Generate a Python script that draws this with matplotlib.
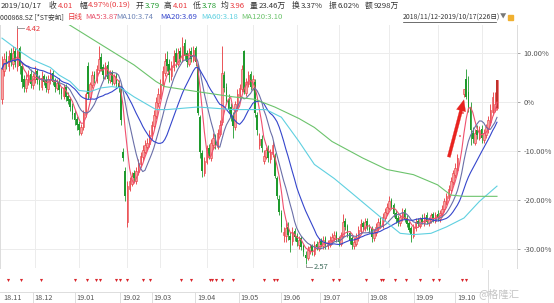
import numpy as np
import pandas as pd
import matplotlib
matplotlib.use("Agg")
from matplotlib import pyplot as plt
from matplotlib.lines import Line2D
from matplotlib.patches import Rectangle

plt.rcParams['font.family'] = ['Noto Sans CJK SC', 'DejaVu Sans']

# reference price for the percent axis
base_price = 3.84

# daily candles 2018/11/12 - 2019/10/17 (226 days)
opens = [
    3.86, 4.08, 4.20, 4.12, 4.22, 4.14, 4.24, 4.12, 4.26, 4.12,
    4.02, 3.95, 4.00, 4.06, 3.97, 4.02, 4.08, 4.02, 3.96, 4.04,
    4.01, 3.94, 4.01, 4.07, 4.01, 3.95, 4.00, 3.94, 3.89, 3.96,
    3.89, 3.86, 3.81, 3.75, 3.71, 3.67, 3.60, 3.64, 3.74, 4.12,
    3.88, 3.97, 4.06, 4.01, 4.09, 4.19, 4.11, 4.04, 4.13, 4.01,
    4.07, 3.99, 4.05, 3.99, 3.95, 3.45, 3.30, 2.90, 3.16, 3.20,
    3.28, 3.22, 3.29, 3.35, 3.41, 3.45, 3.49, 3.51, 3.57, 3.65,
    3.73, 3.83, 3.89, 3.97, 4.07, 4.18, 4.14, 4.04, 4.11, 4.22,
    4.14, 4.24, 4.17, 4.30, 4.22, 4.14, 4.24, 4.17, 4.26, 4.12,
    3.72, 3.44, 3.28, 3.37, 3.48, 3.40, 3.50, 3.57, 3.49, 3.59,
    3.68, 4.05, 3.96, 3.86, 3.80, 3.73, 3.64, 3.80, 3.89, 3.94,
    4.24, 3.91, 3.98, 4.06, 3.95, 4.00, 3.74, 3.50, 3.55, 3.38,
    3.41, 3.47, 3.39, 3.43, 3.42, 3.24, 3.08, 2.97, 2.80, 2.79,
    2.86, 2.79, 2.75, 2.83, 2.79, 2.72, 2.77, 2.71, 2.64, 2.62,
    2.67, 2.71, 2.65, 2.73, 2.69, 2.75, 2.71, 2.77, 2.71, 2.72,
    2.75, 2.77, 2.81, 2.77, 2.73, 2.79, 2.91, 2.87, 2.81, 2.77,
    2.71, 2.73, 2.77, 2.83, 2.89, 2.85, 2.91, 2.85, 2.85, 2.77,
    2.81, 2.85, 2.91, 2.87, 2.93, 2.97, 3.01, 3.07, 3.03, 2.97,
    2.93, 2.89, 2.93, 2.99, 2.93, 2.89, 2.85, 2.79, 2.85, 2.91,
    2.87, 2.93, 2.89, 2.95, 2.89, 2.91, 2.96, 2.91, 2.96, 2.92,
    2.96, 3.00, 3.05, 3.09, 3.15, 3.21, 3.27, 3.31, 3.57, 3.75,
    3.90, 4.02, 3.92, 3.80, 3.60, 3.52, 3.62, 3.56, 3.63, 3.54,
    3.58, 3.63, 3.68, 3.76, 3.78, 3.79,
]
highs = [
    4.20, 4.22, 4.24, 4.25, 4.26, 4.28, 4.27, 4.42, 4.28, 4.14,
    4.05, 4.06, 4.09, 4.10, 4.07, 4.12, 4.10, 4.05, 4.08, 4.06,
    4.04, 4.05, 4.10, 4.09, 4.03, 4.02, 4.03, 3.96, 3.98, 3.98,
    3.92, 3.88, 3.83, 3.78, 3.73, 3.69, 3.67, 3.78, 3.92, 4.15,
    4.00, 4.08, 4.08, 4.13, 4.28, 4.22, 4.14, 4.15, 4.16, 4.09,
    4.09, 4.06, 4.07, 4.01, 3.97, 3.48, 3.33, 3.22, 3.25, 3.29,
    3.31, 3.33, 3.39, 3.45, 3.50, 3.54, 3.56, 3.62, 3.69, 3.78,
    3.88, 3.95, 4.02, 4.12, 4.22, 4.24, 4.18, 4.16, 4.25, 4.26,
    4.26, 4.27, 4.35, 4.33, 4.25, 4.26, 4.27, 4.28, 4.28, 4.14,
    3.74, 3.46, 3.41, 3.50, 3.51, 3.55, 3.60, 3.59, 3.63, 3.70,
    4.28, 4.08, 3.99, 3.90, 3.83, 3.76, 3.85, 3.94, 3.98, 4.13,
    4.25, 4.03, 4.08, 4.08, 4.05, 4.02, 3.76, 3.60, 3.58, 3.46,
    3.49, 3.50, 3.47, 3.53, 3.44, 3.26, 3.11, 2.99, 2.86, 2.90,
    2.90, 2.82, 2.86, 2.85, 2.81, 2.79, 2.79, 2.73, 2.67, 2.71,
    2.73, 2.73, 2.75, 2.75, 2.77, 2.77, 2.79, 2.79, 2.76, 2.79,
    2.81, 2.83, 2.83, 2.79, 2.82, 2.96, 2.93, 2.88, 2.83, 2.79,
    2.77, 2.81, 2.87, 2.92, 2.91, 2.93, 2.93, 2.88, 2.87, 2.84,
    2.89, 2.93, 2.94, 2.97, 3.01, 3.05, 3.10, 3.09, 3.05, 2.99,
    2.95, 2.96, 3.01, 3.01, 2.95, 2.91, 2.87, 2.88, 2.93, 2.93,
    2.94, 2.96, 2.97, 2.98, 2.94, 2.97, 2.98, 2.98, 2.99, 2.99,
    3.03, 3.09, 3.13, 3.19, 3.25, 3.31, 3.36, 3.43, 3.57, 3.75,
    3.94, 4.10, 4.04, 3.84, 3.64, 3.63, 3.66, 3.65, 3.66, 3.63,
    3.67, 3.73, 3.82, 3.92, 3.92, 4.01,
]
lows = [
    3.82, 4.04, 4.10, 4.08, 4.12, 4.10, 4.11, 4.08, 4.06, 3.95,
    3.92, 3.92, 3.97, 3.95, 3.94, 3.99, 3.98, 3.93, 3.93, 3.97,
    3.92, 3.91, 3.98, 3.97, 3.92, 3.93, 3.90, 3.86, 3.86, 3.85,
    3.82, 3.77, 3.71, 3.66, 3.62, 3.58, 3.58, 3.62, 3.72, 3.86,
    3.86, 3.95, 3.99, 3.99, 4.07, 4.08, 4.02, 4.02, 3.99, 3.99,
    3.97, 3.97, 3.96, 3.92, 3.66, 3.38, 3.06, 2.86, 3.14, 3.18,
    3.21, 3.20, 3.27, 3.33, 3.38, 3.43, 3.46, 3.49, 3.55, 3.63,
    3.71, 3.80, 3.86, 3.95, 4.04, 4.08, 4.00, 4.01, 4.08, 4.11,
    4.12, 4.15, 4.15, 4.17, 4.11, 4.12, 4.15, 4.15, 4.12, 3.74,
    3.40, 3.25, 3.26, 3.35, 3.39, 3.38, 3.47, 3.47, 3.47, 3.57,
    3.66, 3.92, 3.82, 3.75, 3.69, 3.56, 3.62, 3.77, 3.86, 3.92,
    3.90, 3.89, 3.96, 3.93, 3.93, 3.72, 3.58, 3.47, 3.45, 3.35,
    3.39, 3.37, 3.36, 3.41, 3.24, 3.08, 2.95, 2.82, 2.74, 2.74,
    2.76, 2.66, 2.72, 2.75, 2.71, 2.69, 2.68, 2.63, 2.57, 2.60,
    2.65, 2.64, 2.63, 2.68, 2.67, 2.70, 2.69, 2.69, 2.69, 2.70,
    2.73, 2.75, 2.74, 2.71, 2.71, 2.77, 2.84, 2.78, 2.73, 2.69,
    2.69, 2.71, 2.75, 2.81, 2.83, 2.83, 2.84, 2.81, 2.74, 2.75,
    2.79, 2.83, 2.86, 2.85, 2.91, 2.95, 2.99, 3.00, 2.94, 2.89,
    2.87, 2.87, 2.91, 2.90, 2.86, 2.82, 2.74, 2.77, 2.83, 2.86,
    2.85, 2.88, 2.87, 2.88, 2.87, 2.89, 2.90, 2.89, 2.91, 2.90,
    2.94, 2.98, 3.03, 3.07, 3.13, 3.19, 3.24, 3.29, 3.57, 3.75,
    3.88, 3.86, 3.76, 3.50, 3.52, 3.50, 3.55, 3.54, 3.52, 3.52,
    3.56, 3.60, 3.66, 3.74, 3.76, 3.78,
]
closes = [
    4.10, 4.18, 4.14, 4.20, 4.16, 4.22, 4.15, 4.24, 4.12, 4.00,
    3.96, 4.02, 4.05, 3.98, 4.04, 4.07, 4.01, 3.97, 4.03, 4.00,
    3.95, 4.02, 4.06, 4.00, 3.96, 3.99, 3.93, 3.90, 3.95, 3.88,
    3.85, 3.80, 3.74, 3.70, 3.66, 3.62, 3.64, 3.75, 3.90, 3.90,
    3.98, 4.05, 4.02, 4.10, 4.18, 4.10, 4.05, 4.12, 4.02, 4.06,
    4.00, 4.04, 3.98, 3.95, 3.70, 3.40, 3.10, 3.18, 3.22, 3.26,
    3.24, 3.30, 3.36, 3.42, 3.46, 3.50, 3.52, 3.58, 3.66, 3.74,
    3.84, 3.90, 3.98, 4.08, 4.16, 4.12, 4.05, 4.12, 4.20, 4.15,
    4.22, 4.18, 4.28, 4.20, 4.15, 4.22, 4.18, 4.25, 4.15, 3.75,
    3.45, 3.30, 3.38, 3.46, 3.42, 3.52, 3.56, 3.50, 3.60, 3.66,
    4.07, 3.95, 3.85, 3.78, 3.72, 3.65, 3.82, 3.90, 3.95, 4.10,
    3.92, 4.00, 4.05, 3.96, 4.02, 3.75, 3.62, 3.55, 3.48, 3.42,
    3.46, 3.40, 3.44, 3.50, 3.26, 3.10, 2.98, 2.86, 2.82, 2.85,
    2.80, 2.76, 2.82, 2.78, 2.74, 2.76, 2.70, 2.66, 2.62, 2.68,
    2.70, 2.66, 2.72, 2.70, 2.74, 2.72, 2.76, 2.72, 2.73, 2.76,
    2.78, 2.80, 2.76, 2.74, 2.80, 2.90, 2.86, 2.80, 2.76, 2.72,
    2.74, 2.78, 2.84, 2.88, 2.86, 2.90, 2.86, 2.84, 2.78, 2.82,
    2.86, 2.90, 2.88, 2.94, 2.98, 3.02, 3.06, 3.02, 2.96, 2.92,
    2.90, 2.94, 2.98, 2.92, 2.88, 2.84, 2.80, 2.86, 2.90, 2.88,
    2.92, 2.90, 2.94, 2.90, 2.92, 2.95, 2.92, 2.95, 2.93, 2.97,
    3.00, 3.06, 3.10, 3.16, 3.22, 3.28, 3.32, 3.40, 3.57, 3.75,
    3.94, 3.88, 3.80, 3.62, 3.55, 3.60, 3.58, 3.62, 3.56, 3.60,
    3.64, 3.70, 3.78, 3.88, 3.82, 4.01,
]

# long moving averages (day index, price)
ma60_days = [0, 7, 14, 22, 26, 31, 35, 40, 45, 50, 54, 60, 66, 70, 75, 89,
             105, 120, 127, 135, 142, 151, 158, 167, 176, 181, 187, 195,
             202, 210, 217, 225]
ma60_vals = [4.34, 4.25, 4.17, 4.11, 4.05, 4.00, 3.93, 3.92, 3.95, 3.96,
             3.95, 3.88, 3.82, 3.78, 3.78, 3.80, 3.78, 3.78, 3.72, 3.53,
             3.35, 3.24, 3.14, 3.01, 2.88, 2.81, 2.80, 2.81, 2.86, 2.93,
             3.06, 3.18]
ma120_days = [0, 15, 31, 45, 60, 70, 74, 89, 105, 115, 124, 135, 142, 150,
              164, 175, 187, 198, 204, 210, 217, 225]
ma120_vals = [4.80, 4.62, 4.44, 4.29, 4.13, 4.00, 3.96, 3.92, 3.88, 3.86,
              3.80, 3.71, 3.64, 3.53, 3.40, 3.31, 3.27, 3.19, 3.11, 3.10,
              3.10, 3.10]

month_starts = [15, 35, 57, 72, 93, 114, 134, 153, 176, 198, 218]
month_labels = ['18.11', '18.12', '19.01', '19.02', '19.03', '19.04',
                '19.05', '19.06', '19.07', '19.08', '19.09', '19.10']
event_days = [3, 9, 19, 35, 41, 45, 47, 55, 57, 60, 68, 71, 86, 91, 100,
              101, 103, 106, 111, 126, 131, 132, 149, 159, 162, 175, 182,
              183, 189, 194, 201, 207, 210, 221, 223]
pct_ticks = [10, 0, -10, -20, -30]
pct_labels = ['10.00%', '0%', '-10.00%', '-20.00%', '-30.00%']

RED = '#e8383d'
GREEN = '#1f9a2d'
W, H = 554, 303


def pct(v):
    return (np.asarray(v, dtype=float) / base_price - 1) * 100


fig = plt.figure(figsize=(W / 100, H / 100), dpi=100)
ax = fig.add_axes([0, 1 - 268 / H, 517 / W, 243 / H])
xlim = (-0.9, 234.1)

x = np.arange(len(closes))
o, h, l, c = pct(opens), pct(highs), pct(lows), pct(closes)
up = c >= o
dn = ~up

# grid
for m in month_starts:
    ax.axvline(m, color='#ececec', lw=0.7, zorder=0)
for t in pct_ticks:
    ax.axhline(t, color='#ececec', lw=0.7, zorder=0)

# candles
ax.vlines(x[up], l[up], h[up], color=RED, lw=0.6, zorder=2)
ax.vlines(x[dn], l[dn], h[dn], color=GREEN, lw=0.6, zorder=2)
ax.bar(x[up], np.maximum(c - o, 0.2)[up], bottom=o[up], width=0.72,
       color='#f7a3a3', edgecolor=RED, lw=0.4, zorder=3)
ax.bar(x[dn], np.maximum(o - c, 0.2)[dn], bottom=c[dn], width=0.72,
       color=GREEN, lw=0, zorder=3)
ax.bar(x[-1:], (c - o)[-1:], bottom=o[-1:], width=0.8, color='#c0302a',
       lw=0, zorder=4)

# moving averages
s = pd.Series(closes)
ax.plot(x, pct(s.rolling(5, min_periods=1).mean()), color='#f0506e', lw=0.8, zorder=5)
ax.plot(x, pct(s.rolling(10, min_periods=1).mean()), color='#6a6fa8', lw=0.8, zorder=5)
ax.plot(x, pct(s.rolling(20, min_periods=1).mean()), color='#3546cc', lw=0.8, zorder=5)
ax.plot(ma60_days, pct(ma60_vals), color='#5fd0e0', lw=0.8, zorder=5)
ax.plot(ma120_days, pct(ma120_vals), color='#6cc36c', lw=0.8, zorder=5)

# high / low labels
ih = int(np.argmax(highs))
il = int(np.argmin(lows))
ax.plot([ih, ih, ih + 3], [h[ih] + 0.4, h[ih], h[ih]], color='#888888', lw=0.6)
ax.text(ih + 3.8, h[ih] - 0.3, '%.2f' % highs[ih], color=RED, fontsize=5.5,
        va='center', ha='left')
ax.plot([il, il, il + 3], [l[il] - 0.2, l[il] - 0.6, l[il] - 0.6], color='#888888', lw=0.6)
ax.text(il + 3.8, l[il] - 0.6, '%.2f' % lows[il], color='#3d6b5a', fontsize=5.5,
        va='center', ha='left')

# red arrow
ax.annotate('', xy=(210.3, 1.0), xytext=(202.8, -11.8),
            arrowprops=dict(arrowstyle='simple,head_width=0.75,head_length=0.9,tail_width=0.25',
                            fc='#e8231f', ec='#e8231f', lw=0.2, mutation_scale=9),
            zorder=6)

ax.set_xlim(*xlim)
ax.set_ylim(-33.9, 15.7)
ax.yaxis.tick_right()
ax.set_yticks(pct_ticks)
ax.set_yticklabels(pct_labels)
ax.tick_params(axis='y', length=2.5, width=0.6, color='#999999', labelsize=5.4,
               labelcolor='#555555', pad=2)
ax.set_xticks([])
for side in ['top', 'bottom']:
    ax.spines[side].set_visible(False)
for side in ['left', 'right']:
    ax.spines[side].set_color('#dcdcdc')
    ax.spines[side].set_linewidth(0.7)

# bottom strip with event markers and months
sx = fig.add_axes([0, 0, 489 / W, 33 / H])
sx.set_xlim(*xlim)
sx.set_ylim(33, 0)
sx.axis('off')
sx.scatter(event_days, [10] * len(event_days), marker='v', s=5, color='#d9262c', lw=0)
sx.axhline(22, color='#dddddd', lw=0.7)
sx.axvline(xlim[1] - 0.3, color='#dddddd', lw=0.7)
for m, lab in zip([0] + month_starts, month_labels):
    if m > 0:
        sx.plot([m, m], [22, 33], color='#dddddd', lw=0.7)
    sx.text(m + 0.8, 27.5, lab, fontsize=5.2, color='#555555', va='center', ha='left')

fig.text(519 / W, 1 - 294 / H, '@格隆汇', fontsize=7.5, color='#c4c4c4',
         ha='right', va='center')


# header
def htext(px, py, s, color='#333333', size=5.6):
    fig.text(px / W, 1 - py / H, s, fontsize=size, color=color, va='center', ha='left')


htext(1, 6, '2019/10/17')
htext(49, 6, '收')
htext(58, 6, '4.01', RED)
htext(79, 6, '幅')
htext(88, 6, '4.97%(0.19)', RED)
htext(136, 6, '开')
htext(145, 6, '3.79', GREEN)
htext(164, 6, '高')
htext(173, 6, '4.01', RED)
htext(193, 6, '低')
htext(202, 6, '3.78', GREEN)
htext(221, 6, '均')
htext(230, 6, '3.96', RED)
htext(250, 6, '量')
htext(259, 6, '23.46万')
htext(292, 6, '换')
htext(301, 6, '3.37%')
htext(329, 6, '振')
htext(338, 6, '6.02%')
htext(365, 6, '额')
htext(374, 6, '9298万')

htext(0, 17, '000868.SZ [*ST安凯]', '#333333', 4.9)
htext(68, 17, '日线', RED, 5.4)
htext(85, 17, 'MA5:3.87', '#e8506a')
htext(116, 17, 'MA10:3.74', '#6f86b8')
htext(160, 17, 'MA20:3.69', '#3546cc')
htext(201, 17, 'MA60:3.18', '#5fd0e0')
htext(241, 17, 'MA120:3.10', '#6cc36c')
htext(403, 17, '2018/11/12-2019/10/17(226日)', '#333333', 4.9)
fig.add_artist(Line2D([403 / W, 496 / W], [1 - 21.5 / H, 1 - 21.5 / H],
                      color='#333333', lw=0.5))
htext(500, 17, '▼', '#777777', 4.6)
fig.add_artist(Rectangle((508 / W, 1 - 20 / H), 5 / W, 5 / H, color='#f0b030'))

fig.savefig('out.png', dpi=100)
